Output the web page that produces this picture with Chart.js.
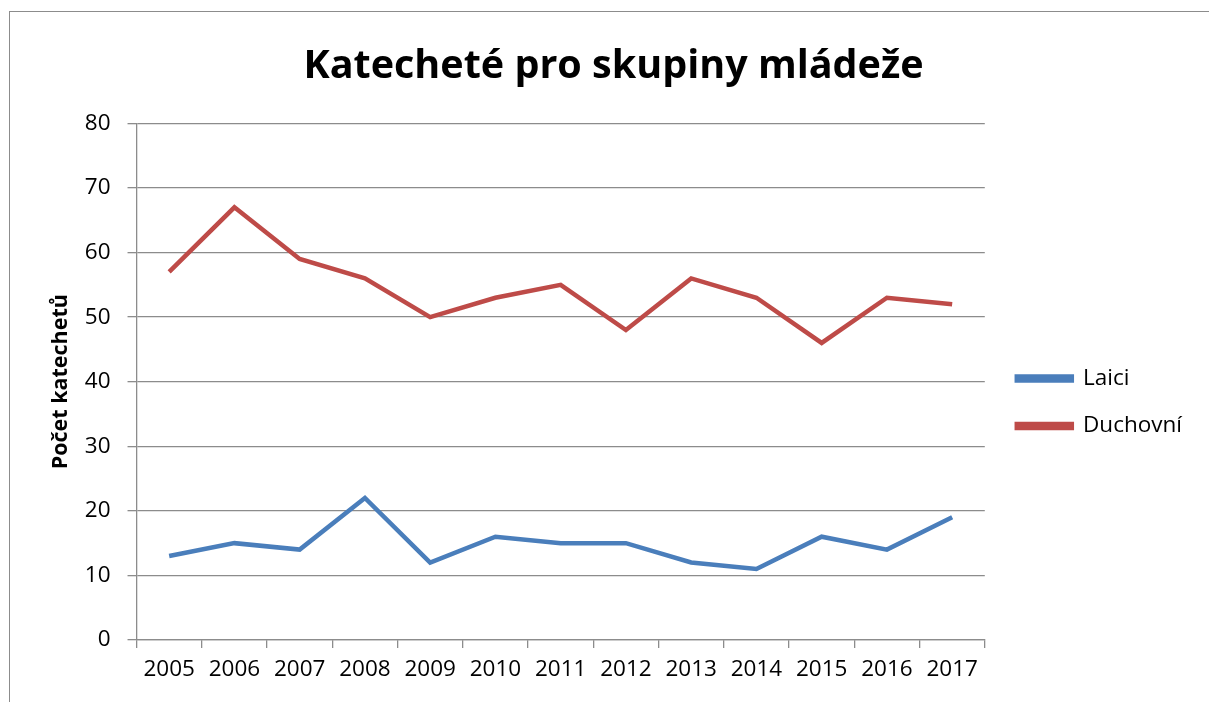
<!DOCTYPE html>
<html>
<head>
<meta charset="utf-8">
<script src="https://cdn.jsdelivr.net/npm/chart.js"></script>
<style>
    html, body { margin: 0; padding: 0; background: #fff; }
    #wrap { position: relative; width: 1209px; height: 702px; overflow: hidden; }
    #frame {
        position: absolute; left: 9px; top: 11px; width: 1202px; height: 720px;
        border: 1px solid #8c8c8c; box-sizing: border-box;
    }
    canvas { position: absolute; left: 0; top: 0; }
</style>
</head>
<body>
<div id="wrap">
    <div id="frame"></div>
    <canvas id="katechetiChart" width="1209" height="702"></canvas>
</div>
<script>
const years = ['2005', '2006', '2007', '2008', '2009', '2010', '2011', '2012', '2013', '2014', '2015', '2016', '2017'];
const laici = [13, 15, 14, 22, 12, 16, 15, 15, 12, 11, 16, 14, 19];
const duchovni = [57, 67, 59, 56, 50, 53, 55, 48, 56, 53, 46, 53, 52];
const yTicks = [0, 10, 20, 30, 40, 50, 60, 70, 80];

const fontName = '"Open Sans", sans-serif';
const gridColor = '#8c8c8c';

// legenda trochu doprava, jako v originalu
const legendShift = {
    id: 'legendShift',
    afterLayout: chart => {
        chart.legend.left += 7;
        chart.legend.right += 7;
    }
};

const ctx = document.getElementById('katechetiChart').getContext('2d');
new Chart(ctx, {
    type: 'line',
    data: {
        labels: years,
        datasets: [{
            label: 'Laici',
            data: laici,
            borderColor: '#4A7EBB',
            backgroundColor: '#4A7EBB',
            borderWidth: 4.5,
            pointRadius: 0,
            tension: 0
        }, {
            label: 'Duchovní',
            data: duchovni,
            borderColor: '#BE4B48',
            backgroundColor: '#BE4B48',
            borderWidth: 4.5,
            pointRadius: 0,
            tension: 0
        }]
    },
    plugins: [legendShift],
    options: {
        responsive: false,
        animation: false,
        layout: {
            padding: { left: 42, right: 24, top: 20, bottom: 11 }
        },
        scales: {
            x: {
                offset: true,
                grid: {
                    display: true,
                    offset: true,
                    drawOnChartArea: false,
                    drawTicks: true,
                    tickLength: 8,
                    color: gridColor,
                    lineWidth: 1.3
                },
                border: { color: gridColor, width: 1.3 },
                ticks: {
                    color: '#000',
                    padding: 8,
                    maxRotation: 0,
                    font: { family: fontName, size: 22.5 }
                }
            },
            y: {
                min: 0,
                max: 80,
                afterBuildTicks: axis => {
                    axis.ticks = yTicks.map(v => ({ value: v }));
                },
                grid: {
                    color: gridColor,
                    lineWidth: 1.3,
                    tickLength: 9
                },
                border: { color: gridColor, width: 1.3 },
                ticks: {
                    color: '#000',
                    padding: 17,
                    font: { family: fontName, size: 22.5 }
                },
                title: {
                    display: true,
                    text: 'Počet katechetů',
                    color: '#000',
                    padding: { top: 6, bottom: -6 },
                    font: { family: fontName, size: 21.5, weight: 'bold' }
                }
            }
        },
        plugins: {
            title: {
                display: true,
                text: 'Katecheté pro skupiny mládeže',
                color: '#000',
                padding: { top: 23, bottom: 33 },
                font: { family: fontName, size: 39.5, weight: 'bold' }
            },
            legend: {
                position: 'right',
                title: {
                    display: true,
                    text: '',
                    padding: { top: 0, bottom: 79 }
                },
                labels: {
                    color: '#000',
                    boxWidth: 55,
                    boxHeight: 4,
                    padding: 25,
                    font: { family: fontName, size: 22.5 }
                }
            },
            tooltip: { enabled: false }
        }
    }
});
</script>
</body>
</html>
